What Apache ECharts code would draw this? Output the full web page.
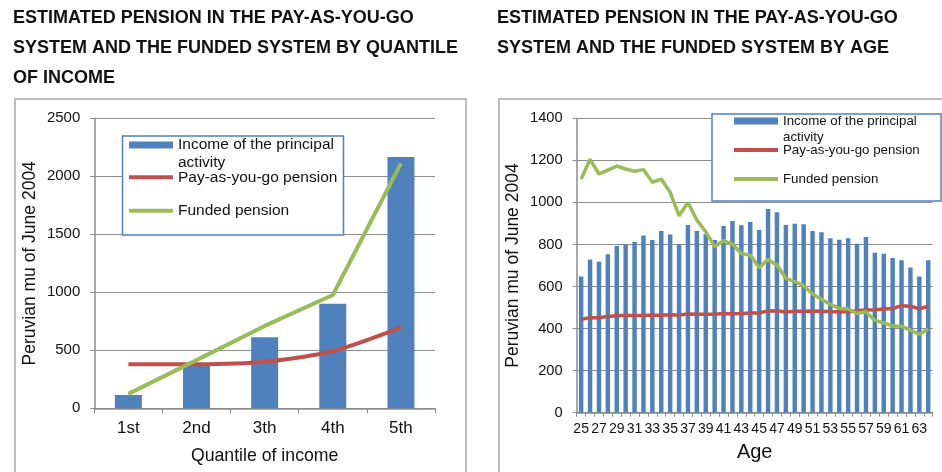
<!DOCTYPE html>
<html lang="en">
    <head>
        <meta charset="UTF-8" />
        <title>Estimated pension</title>
        <style>
            * {
                box-sizing: border-box;
                margin: 0;
                padding: 0;
            }
            body {
                background: #fff;
            }
            .container {
                width: 942px;
                height: 472px;
            }
        </style>
    </head>
    <body>
        <div class="container" id="chart"></div>
        <script src="https://cdn.jsdelivr.net/npm/echarts@6/dist/echarts.min.js"></script>
        <script>
            // 左图: 按收入分位
            var quantiles = ['1st', '2nd', '3th', '4th', '5th']
            var quantIncome = [115, 372, 612, 902, 2167]
            var quantPayg = [379, 380, 402, 494, 698]
            var quantFunded = [124, 415, 710, 977, 2112]

            // 右图: 按年龄
            var ages = ['25', '26', '27', '28', '29', '30', '31', '32', '33', '34',
                '35', '36', '37', '38', '39', '40', '41', '42', '43', '44',
                '45', '46', '47', '48', '49', '50', '51', '52', '53', '54',
                '55', '56', '57', '58', '59', '60', '61', '62', '63', '64']
            var ageIncome = [648, 728, 718, 753, 793, 799, 812, 843, 821, 864,
                847, 799, 893, 864, 850, 821, 888, 912, 891, 907,
                869, 969, 953, 893, 899, 896, 864, 858, 829, 823,
                829, 804, 836, 761, 756, 736, 725, 691, 648, 725]
            var agePayg = [444, 452, 452, 458, 461, 463, 461, 463, 463, 463,
                466, 465, 469, 468, 468, 468, 472, 471, 472, 474,
                474, 484, 485, 479, 482, 482, 484, 482, 480, 480,
                480, 485, 488, 490, 493, 495, 509, 506, 495, 506]
            var ageFunded = [1111, 1205, 1135, 1154, 1173, 1159, 1148, 1156, 1096, 1111,
                1048, 937, 1000, 916, 861, 790, 818, 802, 756, 750,
                690, 729, 702, 639, 623, 604, 564, 539, 515, 496,
                493, 472, 480, 439, 428, 412, 411, 393, 373, 398]

            var names = ['Income of the principal activity', 'Pay-as-you-go pension', 'Funded pension']
            var colors = ['#4F81BD', '#C0504D', '#9BBB59']
            var font = '"Liberation Sans", Arial, sans-serif'
            var gridColor = '#8c8c8c'

            // 每个图例项单独定位, 第一项文字两行, 色块对齐第一行
            function legendItem(name, left, top, size, lh, h) {
                return {
                    data: [{ name: name, icon: 'rect' }],
                    left: left,
                    top: top,
                    padding: 0,
                    itemWidth: 44,
                    itemHeight: h,
                    selectedMode: false,
                    formatter: function (n) {
                        return n === names[0] ? ' \nIncome of the principal\nactivity' : n
                    },
                    textStyle: {
                        fontFamily: font,
                        fontSize: size,
                        lineHeight: lh,
                        color: '#111'
                    }
                }
            }

            function yAxis(grid, max, interval, fontSize) {
                return {
                    type: 'value',
                    gridIndex: grid,
                    min: 0,
                    max: max,
                    interval: interval,
                    name: 'Peruvian mu of June 2004',
                    nameLocation: 'middle',
                    nameGap: 55,
                    nameTextStyle: { fontFamily: font, fontSize: 17.5, color: '#111' },
                    axisLine: { show: true, lineStyle: { color: gridColor, width: 1.5 } },
                    axisTick: { show: true, length: 4, lineStyle: { color: gridColor } },
                    axisLabel: {
                        fontFamily: font, fontSize: fontSize, color: '#111', margin: 14,
                        formatter: function (v) { return String(v) }
                    },
                    splitLine: { lineStyle: { color: gridColor, width: 1.2 } }
                }
            }

            var chart = echarts.init(document.getElementById('chart'))
            chart.setOption({
                animation: false,
                title: [
                    {
                        text: 'ESTIMATED PENSION IN THE PAY-AS-YOU-GO\nSYSTEM AND THE FUNDED SYSTEM BY QUANTILE\nOF INCOME',
                        left: 13,
                        top: 3,
                        padding: 0,
                        textStyle: { fontFamily: font, fontSize: 18, fontWeight: 'bold', lineHeight: 30, color: '#111' }
                    },
                    {
                        text: 'ESTIMATED PENSION IN THE PAY-AS-YOU-GO\nSYSTEM AND THE FUNDED SYSTEM BY AGE',
                        left: 497,
                        top: 3,
                        padding: 0,
                        textStyle: { fontFamily: font, fontSize: 18, fontWeight: 'bold', lineHeight: 30, color: '#111' }
                    }
                ],
                // 外框和图例框
                graphic: [
                    { type: 'rect', shape: { x: 15, y: 99, width: 451, height: 400 }, style: { fill: 'none', stroke: '#a6a6a6', lineWidth: 1.5 }, z: 1 },
                    { type: 'rect', shape: { x: 499, y: 99, width: 460, height: 400 }, style: { fill: 'none', stroke: '#a6a6a6', lineWidth: 1.5 }, z: 1 },
                    { type: 'rect', shape: { x: 122.5, y: 136, width: 221, height: 99 }, style: { fill: '#fff', stroke: '#4F81BD', lineWidth: 1.5 }, z: 3 },
                    { type: 'rect', shape: { x: 712, y: 114, width: 229, height: 87 }, style: { fill: '#fff', stroke: '#4F81BD', lineWidth: 1.5 }, z: 3 }
                ],
                legend: [
                    legendItem(names[0], 129, 118.5, 15.5, 17.7, 7),
                    legendItem(names[1], 129, 168.5, 15.5, 17.7, 4),
                    legendItem(names[2], 129, 202, 15.5, 17.7, 4),
                    legendItem(names[0], 734, 97, 13.3, 16, 7),
                    legendItem(names[1], 734, 142, 13.3, 16, 4),
                    legendItem(names[2], 734, 171, 13.3, 16, 4)
                ],
                grid: [
                    { left: 94.3, right: 507, top: 118.3, bottom: 63.7 },
                    { left: 576.7, right: 9.3, top: 118.3, bottom: 59.3 }
                ],
                xAxis: [
                    {
                        type: 'category',
                        gridIndex: 0,
                        data: quantiles,
                        name: 'Quantile of income',
                        nameLocation: 'middle',
                        nameGap: 39,
                        nameTextStyle: { fontFamily: font, fontSize: 17.7, color: '#111' },
                        axisLine: { lineStyle: { color: gridColor, width: 1.5 } },
                        axisTick: { show: true, length: 5, lineStyle: { color: gridColor } },
                        axisLabel: { fontFamily: font, fontSize: 17, color: '#111', margin: 12 }
                    },
                    {
                        type: 'category',
                        gridIndex: 1,
                        data: ages,
                        name: 'Age',
                        nameLocation: 'middle',
                        nameGap: 30,
                        nameTextStyle: { fontFamily: font, fontSize: 20, color: '#111' },
                        axisLine: { lineStyle: { color: gridColor, width: 1.5 } },
                        axisTick: { show: true, length: 4, interval: 0, lineStyle: { color: gridColor } },
                        axisLabel: { fontFamily: font, fontSize: 14, color: '#111', margin: 9, interval: 1 }
                    }
                ],
                yAxis: [yAxis(0, 2500, 500, 15), yAxis(1, 1400, 200, 14.7)],
                series: [
                    {
                        name: names[0], type: 'bar', xAxisIndex: 0, yAxisIndex: 0,
                        data: quantIncome, barWidth: 27, itemStyle: { color: colors[0] }
                    },
                    {
                        name: names[1], type: 'line', xAxisIndex: 0, yAxisIndex: 0,
                        data: quantPayg, smooth: 0.3, symbol: 'none',
                        lineStyle: { color: colors[1], width: 4 }, itemStyle: { color: colors[1] }
                    },
                    {
                        name: names[2], type: 'line', xAxisIndex: 0, yAxisIndex: 0,
                        data: quantFunded, symbol: 'none',
                        lineStyle: { color: colors[2], width: 4 }, itemStyle: { color: colors[2] }
                    },
                    {
                        name: names[0], type: 'bar', xAxisIndex: 1, yAxisIndex: 1,
                        data: ageIncome, barWidth: '50%', itemStyle: { color: colors[0] }
                    },
                    {
                        name: names[1], type: 'line', xAxisIndex: 1, yAxisIndex: 1,
                        data: agePayg, symbol: 'none',
                        lineStyle: { color: colors[1], width: 3.5 }, itemStyle: { color: colors[1] }
                    },
                    {
                        name: names[2], type: 'line', xAxisIndex: 1, yAxisIndex: 1,
                        data: ageFunded, symbol: 'none',
                        lineStyle: { color: colors[2], width: 3.5 }, itemStyle: { color: colors[2] }
                    }
                ]
            })
        </script>
    </body>
</html>
